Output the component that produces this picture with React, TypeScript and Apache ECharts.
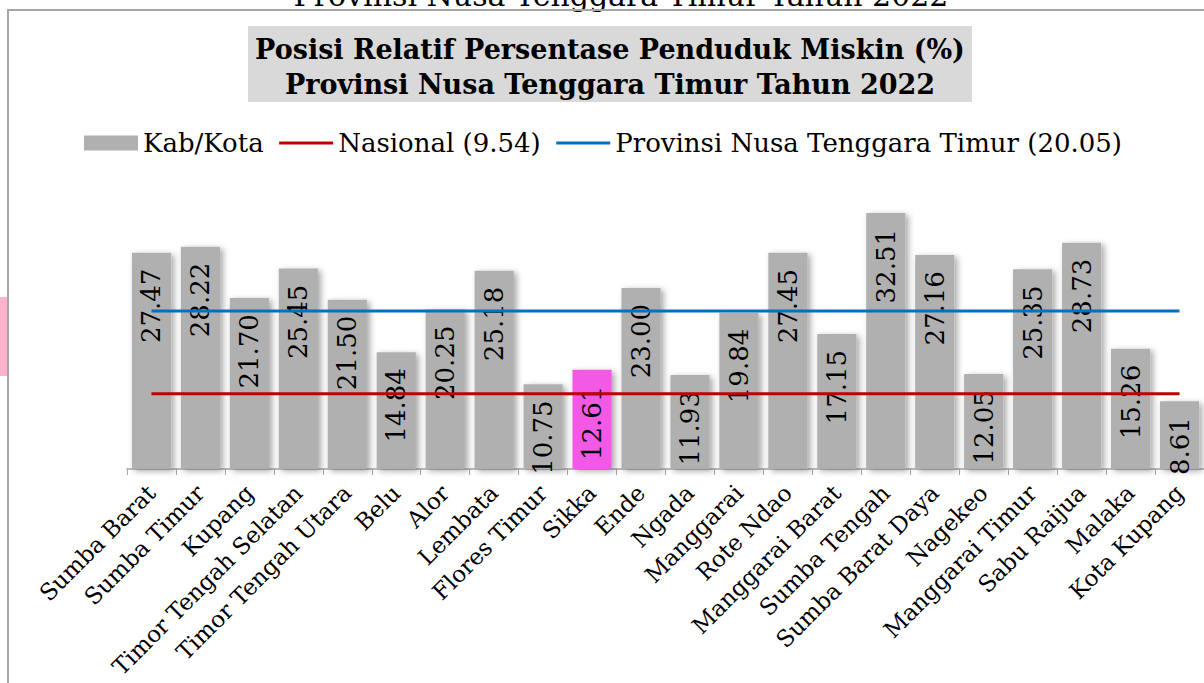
import React, { useEffect, useRef } from 'react';
import * as echarts from 'echarts';

const categories = [
  'Sumba Barat', 'Sumba Timur', 'Kupang', 'Timor Tengah Selatan', 'Timor Tengah Utara',
  'Belu', 'Alor', 'Lembata', 'Flores Timur', 'Sikka', 'Ende', 'Ngada', 'Manggarai',
  'Rote Ndao', 'Manggarai Barat', 'Sumba Tengah', 'Sumba Barat Daya', 'Nagekeo',
  'Manggarai Timur', 'Sabu Raijua', 'Malaka', 'Kota Kupang',
];
const values = [
  27.47, 28.22, 21.70, 25.45, 21.50, 14.84, 20.25, 25.18, 10.75, 12.61, 23.00,
  11.93, 19.84, 27.45, 17.15, 32.51, 27.16, 12.05, 25.35, 28.73, 15.26, 8.61,
];
const highlighted = 'Sikka';
const nationalValue = 9.54;
const provinceValue = 20.05;
const seriesNames = ['Kab/Kota', 'Nasional (9.54)', 'Provinsi Nusa Tenggara Timur (20.05)'];
const titleLines = ['Posisi Relatif Persentase Penduduk Miskin (%)', 'Provinsi Nusa Tenggara Timur Tahun 2022'];
const pageHeading = 'Provinsi Nusa Tenggara Timur Tahun 2022';

const FONT = '"DejaVu Serif", serif';

export default function App() {
  const ref = useRef<HTMLDivElement>(null);
  useEffect(() => {
    if (!ref.current) return;
    const chart = echarts.init(ref.current, undefined, { renderer: 'svg' });
    const barData = values.map((v, i) =>
      categories[i] === highlighted ? { value: v, itemStyle: { color: '#f25ae6' } } : v
    );
    chart.setOption({
      animation: false,
      backgroundColor: '#ffffff',
      graphic: [
        {
          type: 'text', x: 621, y: -5, silent: true,
          style: { text: pageHeading, font: `30px ${FONT}`, fill: '#000', align: 'center', verticalAlign: 'middle' },
        },
        {
          type: 'rect', shape: { x: 8, y: 10, width: 1300, height: 800 }, silent: true,
          style: { fill: 'none', stroke: '#a6a6a6', lineWidth: 2 },
        },
        {
          type: 'rect', shape: { x: 0, y: 297, width: 7, height: 79 }, silent: true,
          style: { fill: '#ffb3d1' },
        },
        {
          type: 'rect', shape: { x: 248, y: 26, width: 724, height: 76 }, silent: true,
          style: { fill: '#d9d9d9' },
        },
        {
          type: 'text', x: 610, y: 49, silent: true,
          style: { text: titleLines[0], font: `bold 27px ${FONT}`, fill: '#000', align: 'center', verticalAlign: 'middle' },
        },
        {
          type: 'text', x: 610, y: 84, silent: true,
          style: { text: titleLines[1], font: `bold 27px ${FONT}`, fill: '#000', align: 'center', verticalAlign: 'middle' },
        },
      ],
      legend: {
        left: 84,
        top: 130,
        padding: 0,
        itemWidth: 54,
        itemHeight: 15,
        itemGap: 14,
        textStyle: { fontFamily: FONT, fontSize: 26, color: '#000' },
        data: [
          { name: seriesNames[0], icon: 'rect', itemStyle: { shadowBlur: 0, shadowOffsetX: 0, shadowOffsetY: 0 } },
          { name: seriesNames[1], itemStyle: { opacity: 0 }, lineStyle: { width: 3 } },
          { name: seriesNames[2], itemStyle: { opacity: 0 }, lineStyle: { width: 3 } },
        ],
      },
      grid: { left: 127, right: 0, top: 154, bottom: 214, containLabel: false },
      xAxis: {
        type: 'category',
        data: categories,
        axisLine: { show: true, lineStyle: { color: '#a6a6a6', width: 1.5 } },
        axisTick: { show: true, length: 6, lineStyle: { color: '#a6a6a6' } },
        axisLabel: {
          interval: 0, rotate: 45, margin: 20,
          fontFamily: FONT, fontSize: 23, color: '#000',
        },
      },
      yAxis: {
        type: 'value', min: 0, max: 40, show: false,
        splitLine: { show: false },
      },
      series: [
        {
          name: seriesNames[0],
          type: 'bar',
          data: barData,
          barCategoryGap: '20%',
          itemStyle: {
            color: '#b0b0b0',
            shadowColor: 'rgba(0,0,0,0.35)',
            shadowBlur: 6,
            shadowOffsetX: 3,
            shadowOffsetY: 2,
          },
          label: {
            show: true,
            position: 'insideTop',
            rotate: 90,
            align: 'right',
            verticalAlign: 'middle',
            distance: 16,
            fontFamily: FONT,
            fontSize: 26,
            color: '#000',
            formatter: (p: any) => Number(p.value).toFixed(2),
          },
          z: 2,
        },
        {
          name: seriesNames[1],
          type: 'line',
          data: categories.map(() => nationalValue),
          symbol: 'none',
          lineStyle: { color: '#c00000', width: 3 },
          itemStyle: { color: '#c00000' },
          z: 3,
        },
        {
          name: seriesNames[2],
          type: 'line',
          data: categories.map(() => provinceValue),
          symbol: 'none',
          lineStyle: { color: '#0070c0', width: 3 },
          itemStyle: { color: '#0070c0' },
          z: 3,
        },
      ],
    });
    return () => chart.dispose();
  }, []);
  return (
    <div
      ref={ref}
      style={{ position: 'fixed', left: 0, top: 0, width: 1204, height: 683 }}
    />
  );
}
